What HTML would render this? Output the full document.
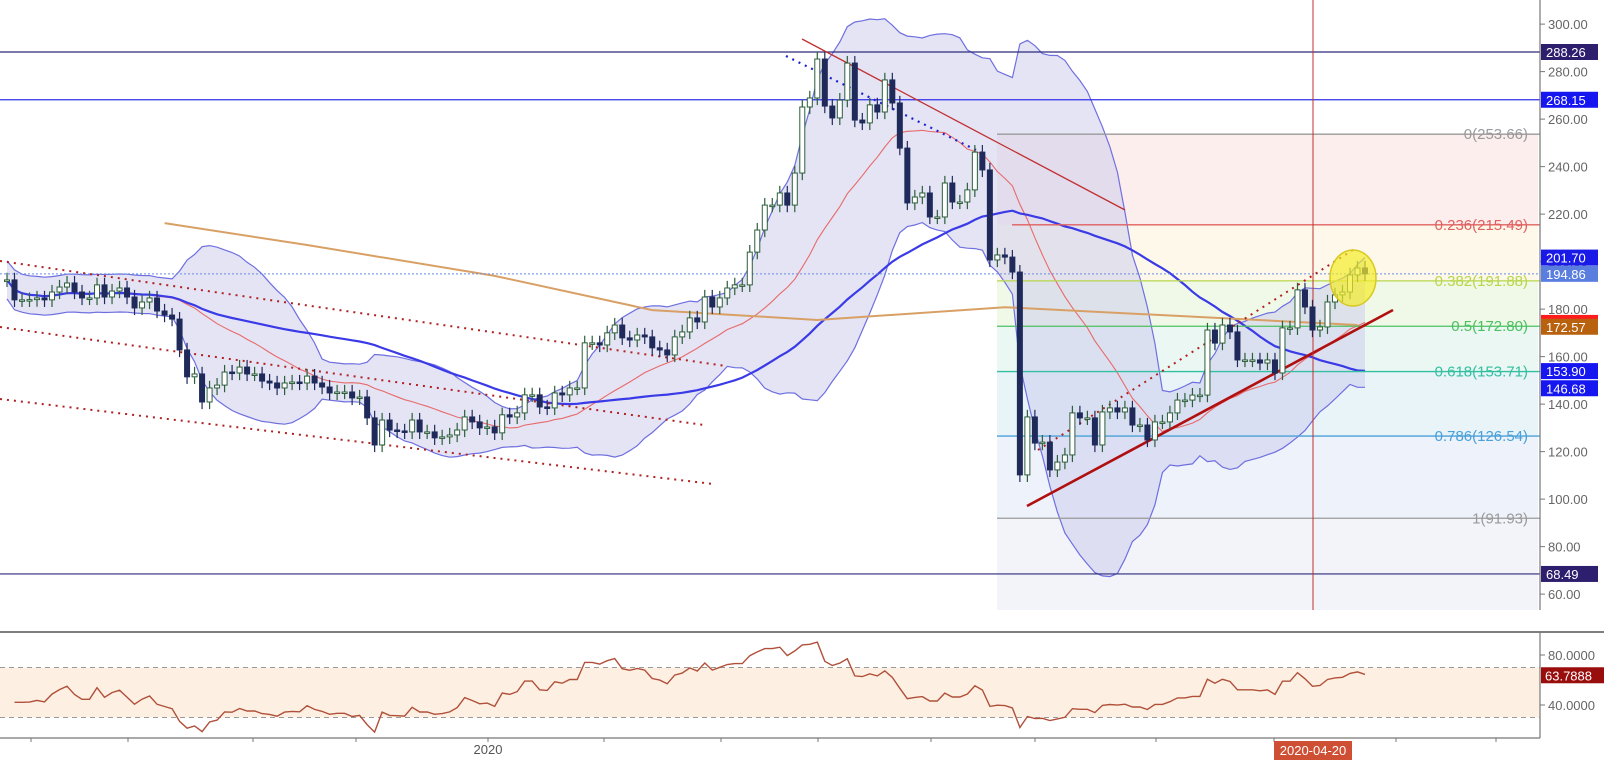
<!DOCTYPE html>
<html><head><meta charset="utf-8">
<style>
html,body{margin:0;padding:0;background:#fff;}
svg{display:block;font-family:"Liberation Sans",sans-serif;}
</style></head>
<body>
<svg id="c" width="1604" height="760" viewBox="0 0 1604 760" xmlns="http://www.w3.org/2000/svg"></svg>
<script>
// ---- data ----
const closes = [192.3,183.9,183.9,184,184.7,183.9,187.2,189.3,191,187.2,184.7,184.7,190.2,185.1,187.6,188.9,185.1,180.5,183,184.7,179.2,177.5,175.8,162.8,151.5,152.7,140.9,146.8,148,153.5,153.1,155.6,152.7,152.7,149.7,148.9,146.8,148.9,149.3,148.9,151.8,148.9,147.2,144.7,145.1,145.1,142.6,143,134.2,122.8,133.3,129.1,128.7,128.3,133.3,128.3,128.3,125.8,126.2,127,129.1,134.6,132.5,130,130.4,127.9,135.5,134.6,136.3,
143.9,143.9,138.8,138.4,144.7,143.9,146.8,146.8,165.8,165.8,164.9,170,173.3,167.9,167,169.1,168.3,163.7,162.8,160.7,168.3,170.4,176.3,174.6,185.1,180.9,184.7,188.9,190.2,190.2,204,213.3,223.8,223.8,228.9,223.8,237.3,265.1,268.9,285.3,265.5,260.5,268,283.6,259.6,258.4,266,263,276.5,266.8,247.8,224.7,227.2,228.9,218.8,218.8,233.1,225.1,225.1,230.2,246.1,238.6,200.7,202.8,201.9,195.6,
110.2,134.6,123.6,124,112.3,115.6,118.6,136.3,134.2,134.2,122.8,136.7,138.4,136.7,138.4,131.2,131.2,124.9,132.5,132.5,136.3,141.7,141.7,143.8,143.8,171.2,165.7,173.3,170.4,158.6,158.6,158.6,157.3,158.6,153.1,172.1,172.1,188.1,180.9,171.2,172.5,183,186,187.2,194.4,197.3,194.86];
const ma200Idx  = [21,40,65,86,108,133,180];
const ma200Vals = [216.2,207,194,179.6,175.4,180.8,173.3];
const priceTicks = [300,280,260,240,220,200,180,160,140,120,100,80,60];
const rsiTicks = [80,40];
const fibLevels = [0,0.236,0.382,0.5,0.618,0.786,1];
const fibHigh = 253.66, fibLow = 91.93;
const hLevels = [288.26,268.15,68.49];
const tags = [[288.26,'#2e1f6e'],[268.15,'#1616f0'],[201.70,'#1a1ae8'],[194.86,'#5a7ee0'],[174.19,'#ff1c1c'],[172.57,'#b8620f'],[153.90,'#1616f0'],[146.68,'#1616f0'],[68.49,'#2e1f6e']];

// ---- scales ----
const N = closes.length;
const X0 = 7, X1 = 1365;
const xI = i => X0 + i*(X1-X0)/(N-1);
const yP = p => 52 + (288.26-p)*2.375;
const yR = r => 655 + (80-r)*1.25;
const svg = document.getElementById('c');
const NS = 'http://www.w3.org/2000/svg';
function mk(tag, attrs, parent){const e=document.createElementNS(NS,tag);for(const k in attrs)e.setAttribute(k,attrs[k]);(parent||svg).appendChild(e);return e;}

const defs = mk('defs',{});
const cp = mk('clipPath',{id:'mainclip'},defs);
mk('rect',{x:0,y:0,width:1540,height:610},cp);
const main = mk('g',{'clip-path':'url(#mainclip)'});



// ---- fib zones ----
const fibX0 = 997, fibX1 = 1538;
const fibColors = ['#fdeeee','#fdf8ea','#f0f9e8','#eaf7f2','#e9f4f9','#eef2fa','#f3f3fa'];
const lineColors = ['#9a9a9a','#e06060','#b8d64a','#4cc060','#33bfa0','#4aa0d8','#9a9a9a'];
const fibPrice = l => fibHigh - l*(fibHigh-fibLow);
for(let k=0;k<fibLevels.length;k++){
  const yTop = yP(fibPrice(fibLevels[k]));
  const yBot = k<fibLevels.length-1 ? yP(fibPrice(fibLevels[k+1])) : 610;
  const r = mk('rect',{x:fibX0,y:yTop,width:fibX1-fibX0,height:yBot-yTop,fill:fibColors[k]},main);
  
  
}

// ---- Bollinger / MAs ----
function sma(i,n){const s=Math.max(0,i-n+1);let t=0;for(let j=s;j<=i;j++)t+=closes[j];return t/(i-s+1);}
function sd(i,n){const s=Math.max(0,i-n+1);const m=sma(i,n);let t=0;for(let j=s;j<=i;j++)t+=(closes[j]-m)**2;return Math.sqrt(t/(i-s+1));}
let up=[],lo=[],mid=[],ma50=[];
for(let i=0;i<N;i++){const m=sma(i,20),s=Math.max(sd(i,20),4);up.push([xI(i),yP(m+2*s)]);lo.push([xI(i),yP(m-2*s)]);mid.push([xI(i),yP(m)]);ma50.push([xI(i),yP(sma(i,50))]);}
const pts = a => a.map(p=>p[0].toFixed(1)+','+p[1].toFixed(1)).join(' ');
const band = mk('polygon',{points:pts(up)+' '+pts(lo.slice().reverse()),fill:'#c9c9ec','fill-opacity':0.5,stroke:'none'},main);


const bu = mk('polyline',{points:pts(up),fill:'none',stroke:'#6f6fe0','stroke-width':1.2},main);


const bl = mk('polyline',{points:pts(lo),fill:'none',stroke:'#6f6fe0','stroke-width':1.2},main);


const bm = mk('polyline',{points:pts(mid),fill:'none',stroke:'#e86a6a','stroke-width':1.1},main);


const b50 = mk('polyline',{points:pts(ma50),fill:'none',stroke:'#3a3ae6','stroke-width':2.2},main);


const orPts = ma200Idx.map((ix,k)=>[xI(ix),yP(ma200Vals[k])]);
const o200 = mk('polyline',{points:pts(orPts),fill:'none',stroke:'#d9a066','stroke-width':2},main);



// ---- horizontal levels ----
const hCols = ['#2e2a7a','#3030e8','#2e2a7a'];
hLevels.forEach((v,k)=>{
  const l = mk('line',{x1:0,x2:1540,y1:yP(v),y2:yP(v),stroke:hCols[k],'stroke-width':1.2},main);
  
  
});
const dl = mk('line',{x1:0,x2:1540,y1:yP(194.86),y2:yP(194.86),stroke:'#6a8ee0','stroke-width':1,'stroke-dasharray':'2,2'},main);



// ---- fib lines ----
for(let k=0;k<fibLevels.length;k++){
  const v=fibPrice(fibLevels[k]), y=yP(v);
  const l = mk('line',{x1:k==1?1012:fibX0,x2:1540,y1:y,y2:y,stroke:lineColors[k],'stroke-width':1.3},main);
  
  
  const t = mk('text',{x:1528,y:y+5,'text-anchor':'end','font-size':15,fill:lineColors[k]},main);
  t.textContent = fibLevels[k]+'('+v.toFixed(2)+')';
  
  
}

// ---- trend lines ----
function tl(x1,y1,x2,y2,col,w,dash,name){const l=mk('line',{x1,y1,x2,y2,stroke:col,'stroke-width':w},main);if(dash)l.setAttribute('stroke-dasharray',dash);
  
  }
tl(0,261,726,366,'#b02020',2,'2,5','channel-upper');
tl(0,327,704,425,'#b02020',2,'2,5','channel-middle');
tl(0,399,713,484,'#b02020',2,'2,5','channel-lower');
tl(802,39,1125,210,'#c03030',1.3,null,'resistance-trendline');
tl(786,56,982,153,'#2020d0',2.2,'2,5','blue-dotted-trendline');
tl(1027,506,1393,310,'#b01010',2.6,null,'support-trendline');
tl(1038,450,1356,248,'#b02020',2,'2,5','upper-dotted-trendline');

const vc = mk('line',{x1:1313,x2:1313,y1:0,y2:610,stroke:'#c03030','stroke-width':1},main);



// ---- candles ----
const cw = 5;
for(let i=0;i<N;i++){
  const o = i>0?closes[i-1]:closes[i], c = closes[i];
  const hi = Math.max(o,c)+3, lw = Math.min(o,c)-3;
  const isUp = c>=o; const x = xI(i);
  const col = isUp?'#2c5f3a':'#1f2a5a';
  const g = mk('g',{},main);
  
  
  mk('line',{x1:x,x2:x,y1:yP(hi),y2:yP(lw),stroke:col,'stroke-width':1.2},g);
  const yt=yP(Math.max(o,c)), h=Math.max(1.5,yP(Math.min(o,c))-yt);
  mk('rect',{x:x-cw/2,y:yt,width:cw,height:h,fill:isUp?'#ffffff':'#1f2a5a',stroke:col,'stroke-width':1},g);
}

const el = mk('ellipse',{cx:1353,cy:278,rx:23,ry:28,fill:'#f4ec2a','fill-opacity':0.7,stroke:'#d8c820','stroke-width':1.5},main);



// ---- price axis ----
const ax = mk('line',{x1:1540,x2:1540,y1:0,y2:610,stroke:'#777','stroke-width':1.2});


priceTicks.forEach(v=>{
  const y=yP(v);
  mk('line',{x1:1540,x2:1545,y1:y,y2:y,stroke:'#777'});
  const t=mk('text',{x:1548,y:y+5,'font-size':13,fill:'#666'});
  t.textContent=v.toFixed(2);
  
  
});
tags.forEach(([v,col])=>{
  const y=yP(v);
  const g=mk('g',{});
  
  
  mk('rect',{x:1541,y:y-8,width:57,height:16,fill:col},g);
  const t=mk('text',{x:1546,y:y+5,'font-size':13,fill:'#fff'},g);
  t.textContent=v.toFixed(2);
});

// ---- RSI pane ----
mk('line',{x1:0,x2:1604,y1:632,y2:632,stroke:'#555','stroke-width':1.5});
const rb = mk('rect',{x:0,y:yR(70),width:1540,height:yR(30)-yR(70),fill:'#fdf0e2'});


[70,30].forEach(v=>{mk('line',{x1:0,x2:1540,y1:yR(v),y2:yR(v),stroke:'#999','stroke-dasharray':'5,4'});});
let rsi=[], ag=1.2, al=1.0;
for(let i=1;i<N;i++){
  const d=closes[i]-closes[i-1], g=Math.max(d,0), l=Math.max(-d,0);
  ag=(ag*13+g)/14; al=(al*13+l)/14;
  rsi.push([xI(i), yR(al===0?100:100-100/(1+ag/al))]);
}
const rl = mk('polyline',{points:pts(rsi),fill:'none',stroke:'#b0503a','stroke-width':1.4});


mk('line',{x1:1540,x2:1540,y1:632,y2:738,stroke:'#777','stroke-width':1.2});
rsiTicks.forEach(v=>{const y=yR(v);mk('line',{x1:1540,x2:1545,y1:y,y2:y,stroke:'#777'});
  const t=mk('text',{x:1548,y:y+5,'font-size':13,fill:'#666'});t.textContent=v.toFixed(4);
  
  });
const rt=mk('g',{});


mk('rect',{x:1541,y:yR(63.79)-8,width:63,height:16,fill:'#9a0d0d'},rt);
const rtt=mk('text',{x:1545,y:yR(63.79)+5,'font-size':13,fill:'#fff'},rt);rtt.textContent='63.7888';

// ---- time axis ----
mk('line',{x1:0,x2:1540,y1:738,y2:738,stroke:'#777','stroke-width':1.2});
const timeTicks=[31,128,253,356,488,604,721,818,931,1035,1156,1274,1396,1496];
timeTicks.forEach(x=>mk('line',{x1:x,x2:x,y1:738,y2:742,stroke:'#777'}));
const t20=mk('text',{x:488,y:754,'text-anchor':'middle','font-size':13,fill:'#555'});t20.textContent='2020';


const dg=mk('g',{});


mk('rect',{x:1274,y:741,width:78,height:19,fill:'#cf4f35'},dg);
const dt=mk('text',{x:1313,y:755,'text-anchor':'middle','font-size':13,fill:'#fff'},dg);dt.textContent='2020-04-20';
</script>
</body></html>
